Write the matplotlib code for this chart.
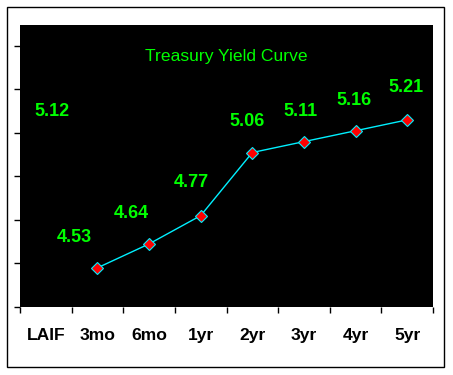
import matplotlib
matplotlib.use("Agg")
import matplotlib.pyplot as plt
from matplotlib.patches import Rectangle
import numpy as np

categories = ["LAIF", "3mo", "6mo", "1yr", "2yr", "3yr", "4yr", "5yr"]
yields = [5.12, 4.53, 4.64, 4.77, 5.06, 5.11, 5.16, 5.21]
label_texts = ["5.12", "4.53", "4.64", "4.77", "5.06", "5.11", "5.16", "5.21"]
title = "Treasury Yield Curve"

# label offsets in pixels (dx, dy) relative to the data point
label_offsets_px = [(6, 28), (-23, 30), (-18, 30), (-9, 33), (-5, 31), (-3, 30), (-2, 30), (-1, 32)]

DPI = 100
fig = plt.figure(figsize=(4.53, 3.75), dpi=DPI)
fig.patch.set_facecolor("white")

W, H = 453, 375
ax = fig.add_axes([20 / W, 1 - 307 / H, 413 / W, 282 / H])
ax.set_facecolor("black")
for s in ax.spines.values():
    s.set_visible(False)

x = np.arange(len(categories))
ymin, ystep = 4.35, 0.2
px_per_unit = 217.6
ymax = ymin + 282 / px_per_unit
ax.set_xlim(-0.5, len(categories) - 0.5)
ax.set_ylim(ymin, ymax)

# Treasury series (all but LAIF)
ax.plot(x[1:], yields[1:], color="#00F0FF", lw=1.0, marker="D", ms=6,
        mfc="#FF0000", mec="#00F0FF", mew=0.8, zorder=3)

lab = dict(family="Liberation Sans", weight="bold", size=13)
for xi, yi, t, (dx, dy) in zip(x, yields, label_texts, label_offsets_px):
    ax.annotate(t, (xi, yi), xytext=(dx * 72 / DPI, dy * 72 / DPI), textcoords="offset points",
                ha="center", va="center", color="#00FF00", **lab)

ax.text(0.5, 1 - 32 / 282, title, transform=ax.transAxes, ha="center", va="center",
        color="#00FF00", family="Liberation Sans", size=12.6)

# ticks
ax.set_xticks(np.arange(-0.5, len(categories)), minor=False)
ax.set_xticklabels([])
ax.set_xticks(x, minor=True)
ax.set_xticklabels(categories, minor=True, color="black", family="Liberation Sans",
                   weight="bold", size=12.6)
ax.tick_params(axis="x", which="major", direction="out", length=4.3, width=1, color="black")
ax.tick_params(axis="x", which="minor", length=0, pad=15)
yt = ymin + ystep * np.arange(7)
ax.set_yticks(yt)
ax.set_yticklabels([])
ax.tick_params(axis="y", direction="out", length=4.3, width=1, color="black")

fig.patches.append(Rectangle((7 / W, 1 - 367 / H), (444 - 7) / W, (367 - 7) / H,
                             transform=fig.transFigure, fill=False, edgecolor="black", lw=1.0))

fig.savefig("out.png", dpi=DPI, facecolor="white")
